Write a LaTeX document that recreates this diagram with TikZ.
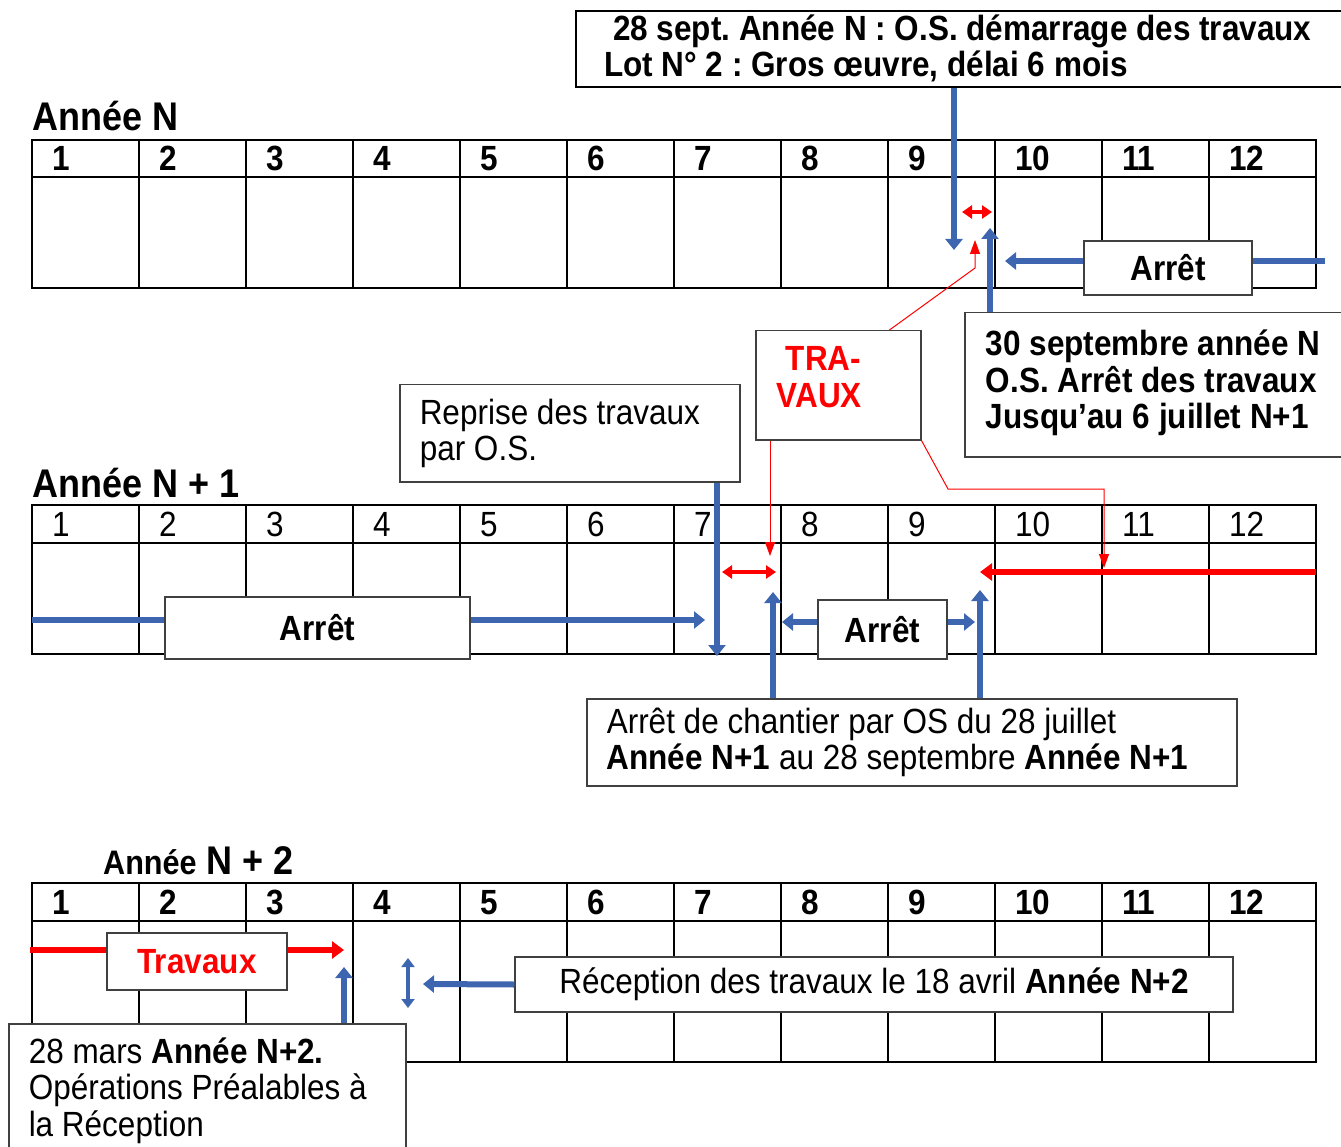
\documentclass[tikz,border=0pt]{standalone}
\usepackage{fontspec}
\setmainfont{Liberation Sans}[FakeStretch=0.9]
\usetikzlibrary{arrows.meta,calc}
\frenchspacing

\definecolor{blueOS}{RGB}{62,102,176}
\definecolor{rouge}{RGB}{255,0,0}
\definecolor{cadre}{RGB}{64,64,64}

\tikzset{
  txt/.style={font=\fontsize{35}{36.5}\selectfont},
  txtb/.style={font=\bfseries\fontsize{35}{36.5}\selectfont},
  titre/.style={font=\bfseries\fontsize{40}{44}\selectfont, anchor=base west, inner sep=0pt},
  boite/.style={draw=cadre, line width=1.5pt, fill=white, txt},
  bleu/.style={draw=blueOS, line width=6pt, -{Triangle[width=17pt,length=11pt]}},
  bleudbl/.style={draw=blueOS, line width=4pt, {Triangle[width=13pt,length=9pt]}-{Triangle[width=13pt,length=9pt]}},
  rougegras/.style={draw=rouge, line width=6pt, -{Triangle[width=17pt,length=12pt]}},
  rougedbl/.style={draw=rouge, line width=4pt, {Triangle[width=13pt,length=10pt]}-{Triangle[width=13pt,length=10pt]}},
  rougefin/.style={draw=rouge, line width=1pt, -{Triangle[width=10pt,length=14pt]}},
}

\begin{document}
\begin{tikzpicture}[x=1pt,y=-1pt]
\useasboundingbox (0,0) rectangle (1341,1147);

% les trois calendriers
\foreach \ty/\yb/\fw/\nom in {140/288/\bfseries/a, 505/654/\mdseries/b, 883/1062/\bfseries/c}{
  \draw[line width=2pt] (32,\ty) rectangle (1316,\yb);
  \draw[line width=2pt] (32,\ty+37.5) -- (1316,\ty+37.5);
  \foreach \m in {2,...,12}
    \draw[line width=2pt] (32+\m*107-107,\ty) -- (32+\m*107-107,\yb);
  \foreach \m in {1,...,12}
    \node[txt, anchor=base west, inner sep=0pt] (\nom\m) at (52+\m*107-107,\ty+31) {\fw\m};
}

\node[titre] (anneeN) at (32,131) {Année N};
\node[titre] (anneeNa) at (32,497) {Année N + 1};
\node[titre] (anneeNb) at (103,874) {{\fontsize{34}{38}\selectfont Année} N + 2};

% cadres
\node[boite, draw=black, line width=2pt, anchor=north west, minimum height=76pt, text width=744pt, inner xsep=28pt, align=flush left, txtb] (demarrage) at (575,10) {\hspace*{9pt}28 sept. Année N : O.S. démarrage des travaux\\Lot N° 2 : Gros œuvre, délai 6 mois\\[-30pt]\mbox{}};
\node[boite, anchor=north west, minimum height=144pt, text width=360pt, inner xsep=21pt, align=flush left, txtb] (arret30) at (964,312) {30 septembre année N\\O.S. Arrêt des travaux\\Jusqu’au 6 juillet N+1\\[-26pt]\mbox{}};
\node[boite, anchor=north west, minimum height=109pt, text width=123pt, inner xsep=21pt, align=flush left, txtb, text=rouge] (travaux) at (755,330) {\hspace*{9pt}TRA-\\VAUX\\[-20pt]\mbox{}};
\node[boite, anchor=north west, minimum height=97pt, text width=300pt, inner xsep=20pt, align=flush left] (reprise) at (399,384) {Reprise des travaux\\par O.S.};
\node[boite, minimum width=168pt, minimum height=54pt, txtb] (arretA) at (1168,268) {Arrêt};
\node[boite, minimum width=305pt, minimum height=62pt, txtb] (arretB) at (317.5,628) {Arrêt};
\node[boite, minimum width=129pt, minimum height=59pt, txtb] (arretC) at (882.5,629.5) {Arrêt};
\node[boite, anchor=north west, minimum height=87pt, text width=610pt, inner xsep=20pt, align=flush left] (chantier) at (586,698) {Arrêt de chantier par OS du 28 juillet\\\textbf{Année N+1} au 28 septembre \textbf{Année N+1}};
\node[boite, minimum width=180pt, minimum height=57pt, txtb, text=rouge] (travauxC) at (197,961.5) {Travaux};
\node[boite, minimum width=718pt, minimum height=55pt] (reception) at (874,984.5) {Réception des travaux le 18 avril \textbf{Année N+2}};
\node[boite, anchor=north west, text width=357pt, inner xsep=20pt, inner ysep=14pt, align=flush left] (mars) at (8,1023) {28 mars \textbf{Année N+2.}\\Opérations Préalables à\\la Réception};

% annee N
\coordinate (pDem) at (954,250);
\draw[bleu] (demarrage.south -| pDem) -- (pDem);
\coordinate (dG) at (962,212);
\coordinate (dD) at (992,212);
\draw[rougedbl] (dG) -- (dD);
\coordinate (pArr) at (990,228);
\draw[bleu] (arret30.north -| pArr) -- (pArr);
\coordinate (pAg) at (1005,261);
\coordinate (pAd) at (1325,261);
\draw[bleu] (arretA.west |- pAg) -- (pAg);
\draw[bleu,-] (arretA.east |- pAd) -- (pAd);
\coordinate (pR1) at (975,240);
\draw[rougefin] ($(travaux.north east)+(-32,0)$) -- ($(pR1)+(0,28)$) -- (pR1);
\coordinate (pR2) at (770,556);
\draw[rougefin] (travaux.south -| pR2) -- (pR2);
\coordinate (coude) at (948,489);
\coordinate (pR3) at (1104,568);
\draw[rougefin] (travaux.south east) -- (coude) -- (pR3 |- coude) -- (pR3);

% annee N+1
\coordinate (pRep) at (717,656);
\draw[bleu] (reprise.south -| pRep) -- (pRep);
\coordinate (eG) at (722,572);
\coordinate (eD) at (776,572);
\draw[rougedbl] (eG) -- (eD);
\coordinate (pCh1) at (773,592);
\draw[bleu] (chantier.north -| pCh1) -- (pCh1);
\coordinate (pB0) at (32,620);
\coordinate (pB1) at (705,620);
\draw[bleu,-] (pB0) -- (arretB.west |- pB0);
\draw[bleu] (arretB.east |- pB1) -- (pB1);
\coordinate (pC0) at (782,622);
\coordinate (pC1) at (975,622);
\draw[bleu] (arretC.west |- pC0) -- (pC0);
\draw[bleu] (arretC.east |- pC1) -- (pC1);
\coordinate (pCh2) at (980,590);
\draw[bleu] (chantier.north -| pCh2) -- (pCh2);
\coordinate (pT0) at (1316,572);
\coordinate (pT1) at (980,572);
\draw[rougegras] (pT0) -- (pT1);

% annee N+2
\coordinate (pV0) at (30,950);
\coordinate (pV1) at (344,950);
\draw[rougegras,-] (pV0) -- (travauxC.west |- pV0);
\draw[rougegras] (travauxC.east |- pV1) -- (pV1);
\coordinate (pM) at (344,967);
\draw[bleu] (mars.north -| pM) -- (pM);
\coordinate (pH) at (408,958);
\coordinate (pL) at (408,1008);
\draw[bleudbl] (pH) -- (pL);
\coordinate (pRec) at (423,984);
\draw[bleu] (reception.west) -- (pRec);
\end{tikzpicture}
\end{document}
